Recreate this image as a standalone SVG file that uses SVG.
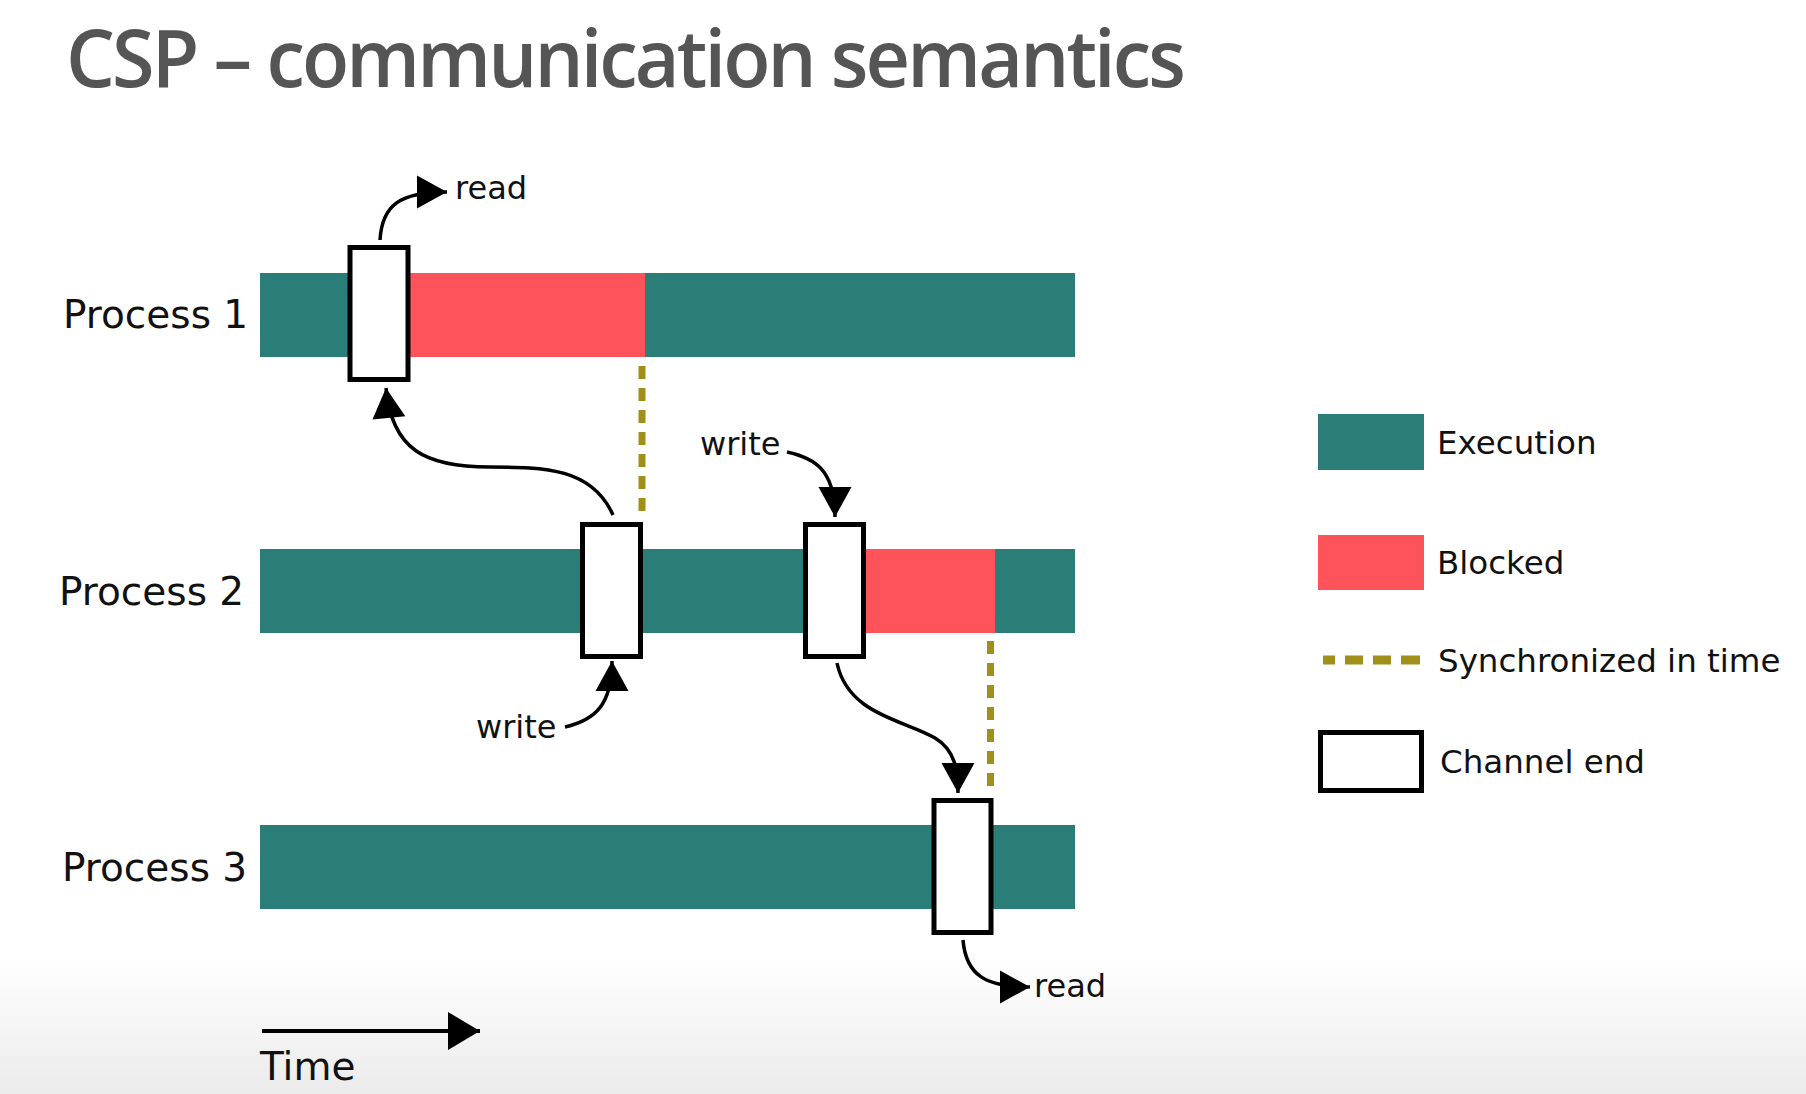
<svg xmlns="http://www.w3.org/2000/svg" width="1806" height="1094" viewBox="0 0 1806 1094">
  <style>
    .title { font-family: "Open Sans", "Noto Sans", "Liberation Sans", sans-serif; font-weight: 600; font-size: 80px; letter-spacing: -3px; fill: #555555; }
    .plabel { font-family: "DejaVu Sans", "Liberation Sans", sans-serif; font-size: 39px; fill: #111111; }
    .small { font-family: "DejaVu Sans", "Liberation Sans", sans-serif; font-size: 32px; fill: #111111; }
    .legend { font-family: "DejaVu Sans", "Liberation Sans", sans-serif; font-size: 32.5px; fill: #111111; }
    .exec { fill: #2a7e77; }
    .blocked { fill: #fe535a; }
    .chan { fill: #ffffff; stroke: #000000; stroke-width: 5; }
    .sync { stroke: #a08f1b; stroke-width: 7; stroke-dasharray: 13 9; fill: none; }
    .flow { fill: none; stroke: #000000; stroke-width: 3.5; marker-end: url(#head); }
  </style>
  <defs>
    <marker id="head" markerUnits="userSpaceOnUse" markerWidth="32" markerHeight="35" refX="30" refY="16.5" orient="auto" overflow="visible">
      <path d="M0,0 L30,16.5 L0,33 Z" fill="#000000"/>
    </marker>
    <marker id="timehead" markerUnits="userSpaceOnUse" markerWidth="34" markerHeight="40" refX="32" refY="19" orient="auto" overflow="visible">
      <path d="M0,0 L32,19 L0,38 Z" fill="#000000"/>
    </marker>
    <linearGradient id="floor" x1="0" y1="0" x2="0" y2="1">
      <stop offset="0" stop-color="#ffffff"/>
      <stop offset="1" stop-color="#ebebeb"/>
    </linearGradient>
  </defs>

  <rect x="0" y="0" width="1806" height="1094" fill="#ffffff"/>
  <rect x="0" y="960" width="1806" height="134" fill="url(#floor)"/>

  <text class="title" x="66" y="87" textLength="1117" lengthAdjust="spacingAndGlyphs">CSP – communication semantics</text>

  <!-- process timelines -->
  <g id="process1">
    <text class="plabel" x="63" y="328">Process 1</text>
    <rect class="exec" x="260" y="273" width="150" height="84"/>
    <rect class="blocked" x="410" y="273" width="235" height="84"/>
    <rect class="exec" x="645" y="273" width="430" height="84"/>
  </g>
  <g id="process2">
    <text class="plabel" x="59" y="605">Process 2</text>
    <rect class="exec" x="260" y="549" width="605" height="84"/>
    <rect class="blocked" x="865" y="549" width="130" height="84"/>
    <rect class="exec" x="995" y="549" width="80" height="84"/>
  </g>
  <g id="process3">
    <text class="plabel" x="62" y="881">Process 3</text>
    <rect class="exec" x="260" y="825" width="815" height="84"/>
  </g>

  <!-- synchronisation markers -->
  <g id="sync-lines">
    <line class="sync" x1="642" y1="366" x2="642" y2="516"/>
    <line class="sync" x1="990.5" y1="641" x2="990.5" y2="790"/>
  </g>

  <!-- channel ends -->
  <g id="chan-p1"><rect class="chan" x="350" y="247.5" width="58" height="132"/></g>
  <g id="chan-p2-in"><rect class="chan" x="582.5" y="524.5" width="58" height="132"/></g>
  <g id="chan-p2-out"><rect class="chan" x="805.5" y="524.5" width="58" height="132"/></g>
  <g id="chan-p3"><rect class="chan" x="934" y="800.5" width="57" height="132"/></g>

  <!-- connectors -->
  <g id="connectors">
    <path class="flow" d="M380,240 C382,205 400,192 447,192"/>
    <path class="flow" d="M613,515 C592,468 545,467 490,467 C425,467 392,450 386,388"/>
    <path class="flow" d="M565,727 C595,720 612,705 612,661"/>
    <path class="flow" d="M787,452 C815,458 835,470 835,517"/>
    <path class="flow" d="M837,663 C848,715 905,720 935,738 C955,750 958,770 958,793"/>
    <path class="flow" d="M963,940 C966,975 985,987 1030,987"/>
  </g>

  <!-- operation labels -->
  <g id="labels">
    <text class="small" x="455" y="199">read</text>
    <text class="small" x="700" y="455">write</text>
    <text class="small" x="476" y="738">write</text>
    <text class="small" x="1034" y="997">read</text>
  </g>

  <!-- time axis -->
  <g id="time-axis">
    <line x1="262" y1="1031" x2="480" y2="1031" stroke="#000000" stroke-width="4" marker-end="url(#timehead)"/>
    <text class="plabel" x="260" y="1080">Time</text>
  </g>

  <!-- legend -->
  <g id="legend-execution">
    <rect class="exec" x="1318" y="414" width="106" height="56"/>
    <text class="legend" x="1437" y="454">Execution</text>
  </g>
  <g id="legend-blocked">
    <rect class="blocked" x="1318" y="535" width="106" height="55"/>
    <text class="legend" x="1437" y="574">Blocked</text>
  </g>
  <g id="legend-sync">
    <line x1="1323" y1="660" x2="1420" y2="660" stroke="#a08f1b" stroke-width="9" stroke-dasharray="12 10 18 10 18 10 19"/>
    <text class="legend" x="1438" y="672">Synchronized in time</text>
  </g>
  <g id="legend-channel">
    <rect class="chan" x="1320.5" y="732.5" width="101" height="58"/>
    <text class="legend" x="1440" y="773">Channel end</text>
  </g>
</svg>
